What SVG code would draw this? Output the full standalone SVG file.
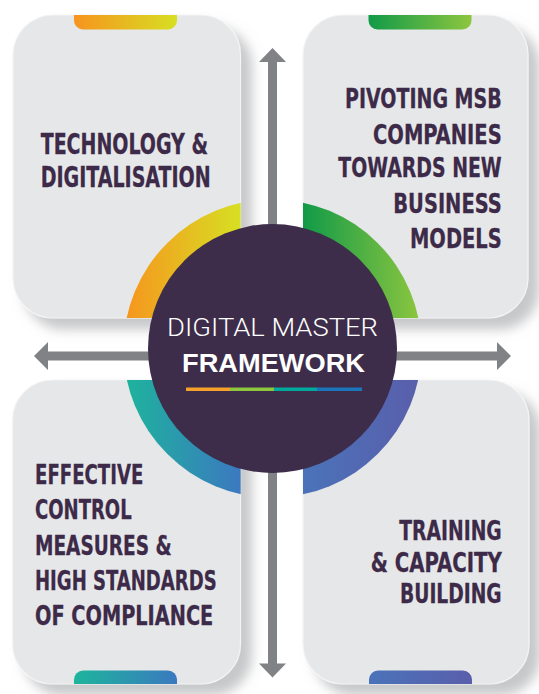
<svg xmlns="http://www.w3.org/2000/svg" width="539" height="694" viewBox="0 0 539 694">
<style>
.card{fill:#e6e7e8;stroke:#f4f4f5;stroke-width:1.2}
.lbl{font-family:"Liberation Sans Narrow","DejaVu Sans Condensed","Roboto Condensed",sans-serif;font-weight:bold;font-stretch:condensed;fill:#3c2a48;font-size:26.5px;stroke:#3c2a48;stroke-width:0.3}
.end{text-anchor:end}
.arrow{fill:#808285}
.ctitle{font-family:Roboto,"Liberation Sans",sans-serif;fill:#ffffff;font-size:26.5px}
</style>
<defs>
<filter id="sh" x="-10%" y="-10%" width="130%" height="130%">
<feDropShadow dx="11" dy="11" stdDeviation="6" flood-color="#8f9194" flood-opacity="0.5"/>
</filter>
<linearGradient id="gTL" gradientUnits="userSpaceOnUse" x1="123" y1="0" x2="240" y2="0"><stop offset="0" stop-color="#f7941e"/><stop offset="1" stop-color="#d7df23"/></linearGradient>
<linearGradient id="gTR" gradientUnits="userSpaceOnUse" x1="303" y1="0" x2="421" y2="0"><stop offset="0" stop-color="#119a48"/><stop offset="1" stop-color="#8dc63f"/></linearGradient>
<linearGradient id="gBL" gradientUnits="userSpaceOnUse" x1="123" y1="0" x2="240" y2="0"><stop offset="0" stop-color="#1db59c"/><stop offset="1" stop-color="#3b79c0"/></linearGradient>
<linearGradient id="gBR" gradientUnits="userSpaceOnUse" x1="303" y1="0" x2="421" y2="0"><stop offset="0" stop-color="#4a73b9"/><stop offset="1" stop-color="#5a5eab"/></linearGradient>
<linearGradient id="tTL" x1="0" y1="0" x2="1" y2="0"><stop offset="0" stop-color="#f7941e"/><stop offset="1" stop-color="#d7df23"/></linearGradient>
<linearGradient id="tTR" x1="0" y1="0" x2="1" y2="0"><stop offset="0" stop-color="#119a48"/><stop offset="1" stop-color="#8dc63f"/></linearGradient>
<linearGradient id="tBL" x1="0" y1="0" x2="1" y2="0"><stop offset="0" stop-color="#1db59c"/><stop offset="1" stop-color="#3b79c0"/></linearGradient>
<linearGradient id="tBR" x1="0" y1="0" x2="1" y2="0"><stop offset="0" stop-color="#4a73b9"/><stop offset="1" stop-color="#5a5eab"/></linearGradient>
<clipPath id="cTL"><rect x="0" y="0" width="240.7" height="318"/></clipPath>
<clipPath id="cTR"><rect x="303" y="0" width="236" height="318"/></clipPath>
<clipPath id="cBL"><rect x="0" y="380" width="240.7" height="314"/></clipPath>
<clipPath id="cBR"><rect x="303" y="380" width="236" height="314"/></clipPath>
</defs>
<rect width="539" height="694" fill="#ffffff"/>

<g id="card-technology">
<rect class="card" x="13" y="15" width="227.5" height="303" rx="40" filter="url(#sh)"/>
<path d="M74,15 H177 V20.5 a9,9 0 0 1 -9,9 H83 a9,9 0 0 1 -9,-9 Z" fill="url(#tTL)"/>
<circle cx="272.5" cy="348.5" r="149" fill="url(#gTL)" clip-path="url(#cTL)"/>
<text class="lbl" style="font-size:28px" x="40.7" y="154" textLength="167.3" lengthAdjust="spacingAndGlyphs">TECHNOLOGY &amp;</text>
<text class="lbl" style="font-size:28px" x="40.7" y="186.7" textLength="170" lengthAdjust="spacingAndGlyphs">DIGITALISATION</text>
</g>

<g id="card-pivoting">
<rect class="card" x="303" y="15" width="225" height="303" rx="40" filter="url(#sh)"/>
<path d="M368.5,15 H471.5 V20.5 a9,9 0 0 1 -9,9 H377.5 a9,9 0 0 1 -9,-9 Z" fill="url(#tTR)"/>
<circle cx="272.5" cy="348.5" r="149" fill="url(#gTR)" clip-path="url(#cTR)"/>
<text class="lbl end" x="501.7" y="108.3" textLength="156.7" lengthAdjust="spacingAndGlyphs">PIVOTING MSB</text>
<text class="lbl end" x="501.7" y="144.3" textLength="128.7" lengthAdjust="spacingAndGlyphs">COMPANIES</text>
<text class="lbl end" x="501.7" y="176.7" textLength="163.4" lengthAdjust="spacingAndGlyphs">TOWARDS NEW</text>
<text class="lbl end" x="501.7" y="213.3" textLength="108.4" lengthAdjust="spacingAndGlyphs">BUSINESS</text>
<text class="lbl end" x="501.7" y="248.3" textLength="91.7" lengthAdjust="spacingAndGlyphs">MODELS</text>
</g>

<g id="card-compliance">
<rect class="card" x="12.5" y="380" width="228" height="304" rx="40" filter="url(#sh)"/>
<path d="M74,684 V679.5 a9,9 0 0 1 9,-9 H168 a9,9 0 0 1 9,9 V684 Z" fill="url(#tBL)"/>
<circle cx="272.5" cy="348.5" r="149" fill="url(#gBL)" clip-path="url(#cBL)"/>
<text class="lbl" x="35" y="484.3" textLength="108.3" lengthAdjust="spacingAndGlyphs">EFFECTIVE</text>
<text class="lbl" x="35" y="519.3" textLength="96.7" lengthAdjust="spacingAndGlyphs">CONTROL</text>
<text class="lbl" x="35" y="555" textLength="136.7" lengthAdjust="spacingAndGlyphs">MEASURES &amp;</text>
<text class="lbl" x="35" y="590" textLength="181.7" lengthAdjust="spacingAndGlyphs">HIGH STANDARDS</text>
<text class="lbl" x="35" y="625" textLength="178.3" lengthAdjust="spacingAndGlyphs">OF COMPLIANCE</text>
</g>

<g id="card-training">
<rect class="card" x="303" y="380" width="226" height="304" rx="40" filter="url(#sh)"/>
<path d="M369,684 V679.5 a9,9 0 0 1 9,-9 H463 a9,9 0 0 1 9,9 V684 Z" fill="url(#tBR)"/>
<circle cx="272.5" cy="348.5" r="149" fill="url(#gBR)" clip-path="url(#cBR)"/>
<text class="lbl end" x="501.7" y="540" textLength="102.4" lengthAdjust="spacingAndGlyphs">TRAINING</text>
<text class="lbl end" x="501.7" y="571.7" textLength="131" lengthAdjust="spacingAndGlyphs">&amp; CAPACITY</text>
<text class="lbl end" x="501.7" y="603.3" textLength="101.7" lengthAdjust="spacingAndGlyphs">BUILDING</text>
</g>

<g id="connectors">
<path class="arrow" d="M272.5,48 L286,62 H277 V250 H268 V62 H259 Z"/>
<path class="arrow" d="M272.5,677.5 L286,663.5 H277 V450 H268 V663.5 H259 Z"/>
<path class="arrow" d="M34,356 L48,342 V351.6 H200 V360.6 H48 V370 Z"/>
<path class="arrow" d="M511,356 L497,342 V351.6 H340 V360.6 H497 V370 Z"/>
</g>

<g id="center">
<circle cx="272.5" cy="348.5" r="124.5" fill="#3d2d4a"/>
<text class="ctitle" style="font-weight:300" x="167" y="336" textLength="211" lengthAdjust="spacingAndGlyphs">DIGITAL MASTER</text>
<text class="ctitle" style="font-family:'Liberation Sans',Arial,sans-serif;font-weight:bold;font-size:26px" x="182" y="372" textLength="183" lengthAdjust="spacingAndGlyphs">FRAMEWORK</text>
<rect x="186" y="387.5" width="44" height="3.5" fill="#f7a12b"/>
<rect x="230" y="387.5" width="44" height="3.5" fill="#8dc63f"/>
<rect x="274" y="387.5" width="43" height="3.5" fill="#00a99d"/>
<rect x="317" y="387.5" width="45" height="3.5" fill="#1b75bb"/>
</g>
</svg>
